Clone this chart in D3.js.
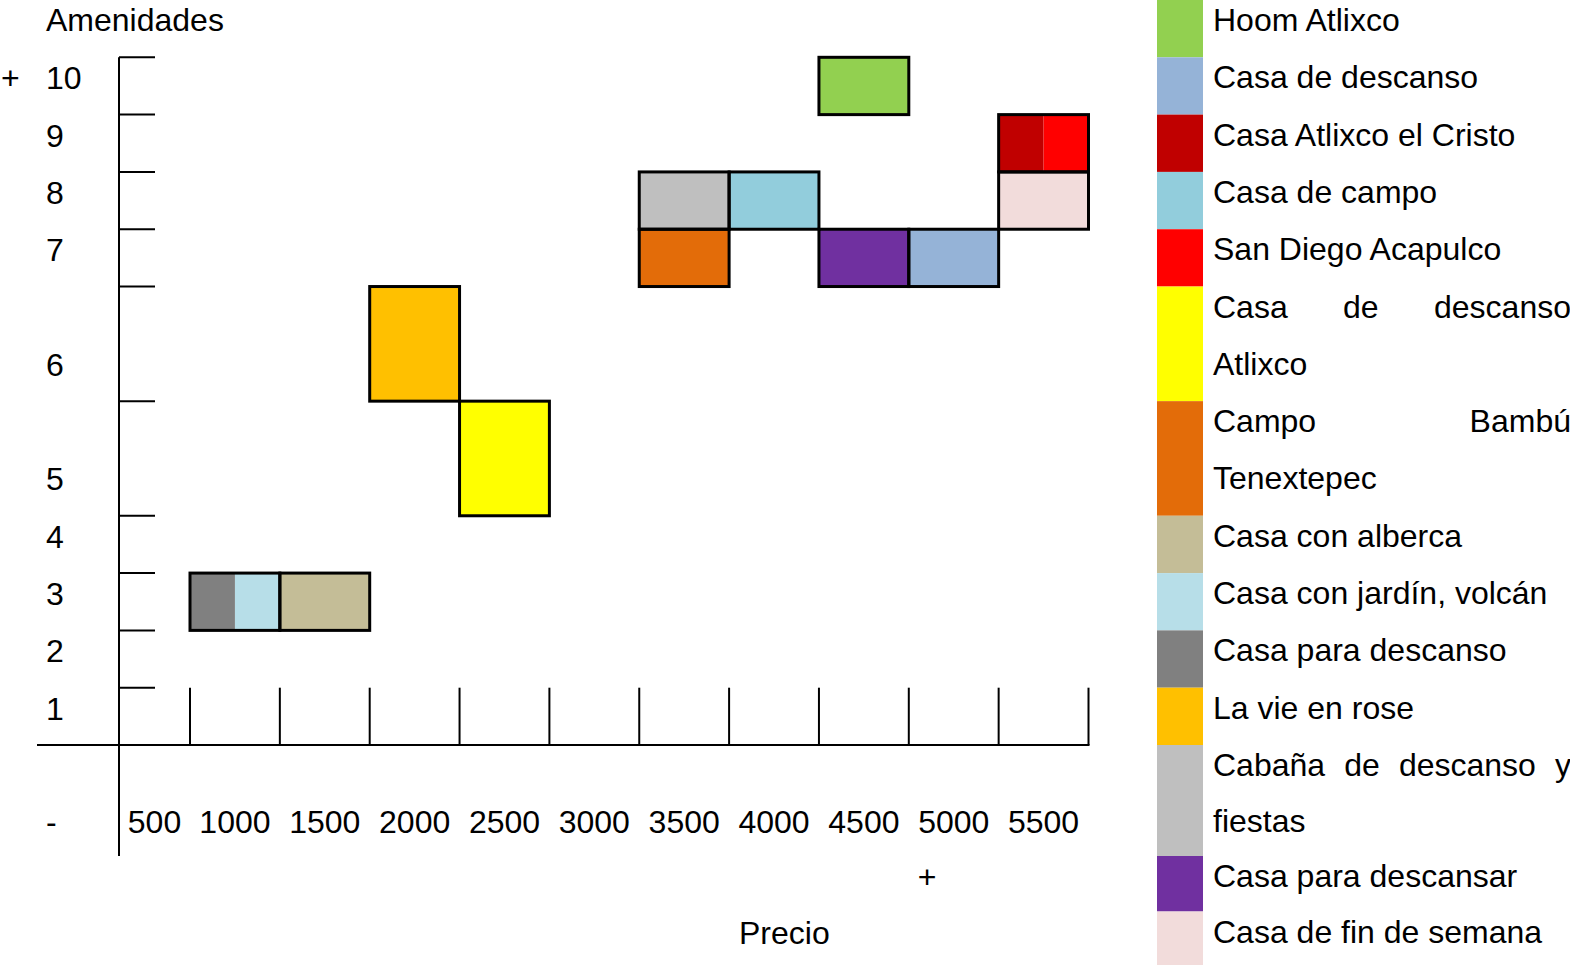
<!DOCTYPE html>
<html><head><meta charset="utf-8">
<script src="https://cdn.jsdelivr.net/npm/d3@7"></script>
<style>
html,body{margin:0;padding:0;background:#fff;overflow:hidden}
svg{display:block}
text{font-family:"Liberation Sans",Arial,sans-serif;font-size:32px;fill:#000}
</style>
</head><body>
<svg id="c" width="1570" height="965"></svg>
<script>
// ---------------- DATA ----------------
const amenidadesTicks = [10, 9, 8, 7, 6, 5, 4, 3, 2, 1];
const precioTicks = [500, 1000, 1500, 2000, 2500, 3000, 3500, 4000, 4500, 5000, 5500];
const nombres = [
  "Hoom Atlixco", "Casa de descanso", "Casa Atlixco el Cristo", "Casa de campo",
  "San Diego Acapulco", "Casa de descanso Atlixco", "Campo Bambú Tenextepec",
  "Casa con alberca", "Casa con jardín, volcán", "Casa para descanso",
  "La vie en rose", "Cabaña de descanso y fiestas", "Casa para descansar",
  "Casa de fin de semana"
];
const colores = [
  "#92D050", "#95B3D7", "#C00000", "#92CDDC", "#FF0000", "#FFFF00", "#E36C09",
  "#C4BD97", "#B7DEE8", "#808080", "#FFC000", "#BFBFBF", "#7030A0", "#F2DCDB"
];
const precio =      [4500, 5000, 5500, 4000, 5500, 2500, 3500, 1500, 1000, 1000, 2000, 3500, 4500, 5500];
const amenidades =  [10,   7,    9,    8,    9,    5,    7,    3,    3,    3,    6,    8,    7,    8];
// which half of a shared cell (0 = left, 1 = right, null = whole cell)
const mitad =       [null, null, 0,    null, 1,    null, null, null, 1,    0,    null, null, null, null];
const tituloY = "Amenidades";
const tituloX = "Precio";

// ---------------- LAYOUT ----------------
const svg = d3.select("#c");
const LEG_X = 1213, LEG_W = 358, SW_X = 1157, SW_W = 46;
const meas = svg.append("text").attr("x", -2000).attr("y", -2000);
const tw = s => { meas.text(s); return meas.node().getComputedTextLength(); };

function wrap(name) {
  const words = name.split(" ");
  const lines = [];
  let cur = [];
  for (const w of words) {
    if (cur.length && tw([...cur, w].join(" ")) > LEG_W) { lines.push(cur); cur = [w]; }
    else cur.push(w);
  }
  lines.push(cur);
  return lines;
}
const wrapped = nombres.map(wrap);
const rowLines = wrapped.map(l => l.length);
const cum = [0];
rowLines.forEach((n, i) => cum.push(cum[i] + n));
meas.remove();

const yLine = d3.scaleLinear().domain([0, cum[11], cum[14]]).range([0, 745, 967]);
const rowTop = r => yLine(cum[r]);
const rowBottom = r => yLine(cum[r + 1]);
const baseline = (r, k) => yLine(cum[r] + k) + 32;
const rowOf = a => amenidadesTicks.indexOf(a) + 1;

const x = d3.scaleLinear().domain([0, 500, 5500]).range([119, 190, 1088.5]);

// ---------------- CELLS ----------------
const cells = nombres.map((n, i) => {
  const r = rowOf(amenidades[i]);
  let x0 = x(precio[i] - 500), x1 = x(precio[i]);
  if (mitad[i] !== null) {
    const xm = (x0 + x1) / 2;
    if (mitad[i] === 0) x1 = xm; else x0 = xm;
  }
  return { x0, x1, y0: rowTop(r), y1: rowBottom(r), c: colores[i] };
});
svg.append("g").selectAll("rect").data(cells).join("rect")
  .attr("x", d => d.x0).attr("y", d => d.y0)
  .attr("width", d => d.x1 - d.x0).attr("height", d => d.y1 - d.y0)
  .attr("fill", d => d.c);

const keys = Array.from(new Set(nombres.map((n, i) => precio[i] + "|" + amenidades[i])));
svg.append("g").selectAll("rect").data(keys).join("rect")
  .each(function (k) {
    const [p, a] = k.split("|").map(Number);
    const r = rowOf(a);
    d3.select(this).attr("x", x(p - 500)).attr("y", rowTop(r))
      .attr("width", x(p) - x(p - 500)).attr("height", rowBottom(r) - rowTop(r));
  })
  .attr("fill", "none").attr("stroke", "#000").attr("stroke-width", 3);

// ---------------- AXES ----------------
const ax = svg.append("g").attr("stroke", "#000").attr("stroke-width", 2);
ax.append("line").attr("x1", x(0)).attr("x2", x(0)).attr("y1", rowTop(1)).attr("y2", rowBottom(11));
ax.append("line").attr("x1", 37).attr("x2", x(5500) + 1).attr("y1", rowTop(11)).attr("y2", rowTop(11));
ax.selectAll(".yt").data(amenidadesTicks).join("line")
  .attr("x1", x(0)).attr("x2", x(0) + 36)
  .attr("y1", a => rowTop(rowOf(a))).attr("y2", a => rowTop(rowOf(a)));
ax.selectAll(".xt").data(precioTicks).join("line")
  .attr("x1", p => x(p)).attr("x2", p => x(p))
  .attr("y1", rowTop(rowOf(1))).attr("y2", rowTop(11));

// ---------------- LABELS ----------------
svg.append("text").attr("x", 46).attr("y", baseline(0, 0) - 1).text(tituloY);
svg.append("text").attr("x", 1).attr("y", baseline(1, 0)).text("+");
svg.append("g").selectAll("text").data(amenidadesTicks).join("text")
  .attr("x", 46).attr("y", a => baseline(rowOf(a), rowLines[rowOf(a)] - 1)).text(a => a);
svg.append("text").attr("x", 46).attr("y", baseline(11, rowLines[11] - 1)).text("-");
svg.append("g").selectAll("text").data(precioTicks).join("text")
  .attr("x", p => (x(p - 500) + x(p)) / 2).attr("text-anchor", "middle")
  .attr("y", baseline(11, rowLines[11] - 1)).text(p => p);
svg.append("text").attr("x", 927).attr("text-anchor", "middle").attr("y", baseline(12, 0)).text("+");
svg.append("text").attr("x", 739).attr("y", baseline(13, 0)).text(tituloX);

// ---------------- LEGEND ----------------
const leg = svg.append("g");
nombres.forEach((n, i) => {
  leg.append("rect").attr("x", SW_X).attr("y", rowTop(i)).attr("width", SW_W)
    .attr("height", Math.min(rowBottom(i), 965) - rowTop(i)).attr("fill", colores[i]);
  wrapped[i].forEach((words, k) => {
    const yb = baseline(i, k) - 1;
    const last = k === wrapped[i].length - 1;
    if (last || words.length < 2) {
      leg.append("text").attr("x", LEG_X).attr("y", yb).text(words.join(" "));
    } else {
      const t = leg.append("g");
      const ws = words.map(w => { const el = t.append("text").attr("y", yb).text(w); return { el, w: el.node().getComputedTextLength() }; });
      const tot = d3.sum(ws, d => d.w);
      const gap = (LEG_W - tot) / (ws.length - 1);
      let cx = LEG_X;
      ws.forEach(d => { d.el.attr("x", cx); cx += d.w + gap; });
    }
  });
});
</script>
</body></html>
